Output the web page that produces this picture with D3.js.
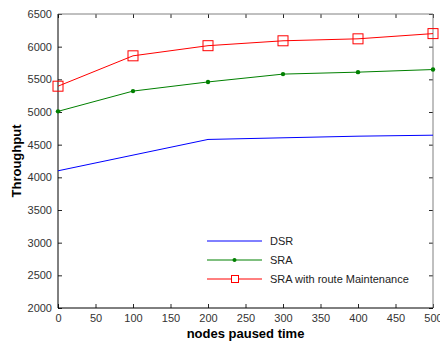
<!DOCTYPE html>
<html>
<head>
<meta charset="utf-8">
<script src="https://cdn.jsdelivr.net/npm/d3@7"></script>
<style>
  body { margin: 0; background: #fff; }
  svg { display: block; font-family: "Liberation Sans", Arial, sans-serif; }
</style>
</head>
<body>
<svg width="440" height="343"></svg>
<script>
const pausedTime = [0, 100, 200, 300, 400, 500];
const dsr = [4100, 4340, 4580, 4605, 4630, 4645];
const sra = [5010, 5320, 5460, 5580, 5610, 5650];
const sraMaint = [5395, 5860, 6015, 6090, 6120, 6200];
const xTicks = [0, 50, 100, 150, 200, 250, 300, 350, 400, 450, 500];
const yTicks = [2000, 2500, 3000, 3500, 4000, 4500, 5000, 5500, 6000, 6500];
const seriesNames = ['DSR', 'SRA', 'SRA with route Maintenance'];

const svg = d3.select('svg');
const mLeft = 58, mRight = 433, mTop = 14, mBottom = 308;

const x = d3.scaleLinear().domain([0, 500]).range([mLeft, mRight]);
const y = d3.scaleLinear().domain([2000, 6500]).range([mBottom, mTop]);

// axes (matlab style: ticks inward on all four sides)
const axisColor = '#262626';
svg.append('g')
  .attr('transform', 'translate(0,' + mBottom + ')')
  .call(d3.axisBottom(x).tickValues(xTicks).tickSize(-4).tickPadding(6).tickFormat(d3.format('d')))
  .call(g => g.select('.domain').remove());
svg.append('g')
  .attr('transform', 'translate(' + mLeft + ',0)')
  .call(d3.axisLeft(y).tickValues(yTicks).tickSize(-4).tickPadding(6).tickFormat(d3.format('d')))
  .call(g => g.select('.domain').remove());
svg.append('g')
  .attr('transform', 'translate(0,' + mTop + ')')
  .call(d3.axisTop(x).tickValues(xTicks).tickSize(-4).tickFormat(''))
  .call(g => g.select('.domain').remove());
svg.append('g')
  .attr('transform', 'translate(' + mRight + ',0)')
  .call(d3.axisRight(y).tickValues(yTicks).tickSize(-4).tickFormat(''))
  .call(g => g.select('.domain').remove());

svg.selectAll('.tick line').attr('stroke', axisColor);
svg.selectAll('.tick text').attr('fill', '#333').style('font-size', '11px');

// frame
svg.append('line').attr('x1', mLeft).attr('x2', mRight).attr('y1', mTop).attr('y2', mTop).attr('stroke', '#808080');
svg.append('line').attr('x1', mRight).attr('x2', mRight).attr('y1', mTop).attr('y2', mBottom).attr('stroke', '#808080');
svg.append('line').attr('x1', mLeft).attr('x2', mRight).attr('y1', mBottom).attr('y2', mBottom).attr('stroke', '#000');
svg.append('line').attr('x1', mLeft).attr('x2', mLeft).attr('y1', mTop).attr('y2', mBottom).attr('stroke', '#000');

const line = d3.line().x((d, i) => x(pausedTime[i])).y(d => y(d));

svg.append('path').datum(dsr).attr('fill', 'none').attr('stroke', '#0000ff').attr('d', line);
svg.append('path').datum(sra).attr('fill', 'none').attr('stroke', '#008000').attr('d', line);
svg.append('path').datum(sraMaint).attr('fill', 'none').attr('stroke', '#ff0000').attr('d', line);

svg.selectAll('.dot').data(sra).enter().append('circle')
  .attr('cx', (d, i) => x(pausedTime[i])).attr('cy', d => y(d))
  .attr('r', 2.2).attr('fill', '#008000');
svg.selectAll('.sq').data(sraMaint).enter().append('rect')
  .attr('x', (d, i) => x(pausedTime[i]) - 5).attr('y', d => y(d) - 5)
  .attr('width', 10).attr('height', 10)
  .attr('fill', 'none').attr('stroke', '#ff0000');

// axis titles
svg.append('text')
  .attr('x', (mLeft + mRight) / 2).attr('y', 338)
  .attr('text-anchor', 'middle').style('font-size', '13px').style('font-weight', 'bold')
  .text('nodes paused time');
svg.append('text')
  .attr('transform', 'translate(21,' + ((mTop + mBottom) / 2) + ') rotate(-90)')
  .attr('text-anchor', 'middle').style('font-size', '13px').style('font-weight', 'bold')
  .text('Throughput');

// legend
const legendColors = ['#0000ff', '#008000', '#ff0000'];
const lg = svg.append('g').attr('transform', 'translate(207,241)');
seriesNames.forEach((name, i) => {
  const row = lg.append('g').attr('transform', 'translate(0,' + (i * 19) + ')');
  row.append('line').attr('x1', 0).attr('x2', 55).attr('stroke', legendColors[i]);
  if (i === 1) row.append('circle').attr('cx', 27.5).attr('r', 2).attr('fill', legendColors[i]);
  if (i === 2) row.append('rect').attr('x', 24.5).attr('y', -3.5).attr('width', 7).attr('height', 7)
    .attr('fill', '#fff').attr('stroke', legendColors[i]);
  row.append('text').attr('x', 63).attr('y', 4).style('font-size', '11px').attr('fill', '#222').text(name);
});
</script>
</body>
</html>
